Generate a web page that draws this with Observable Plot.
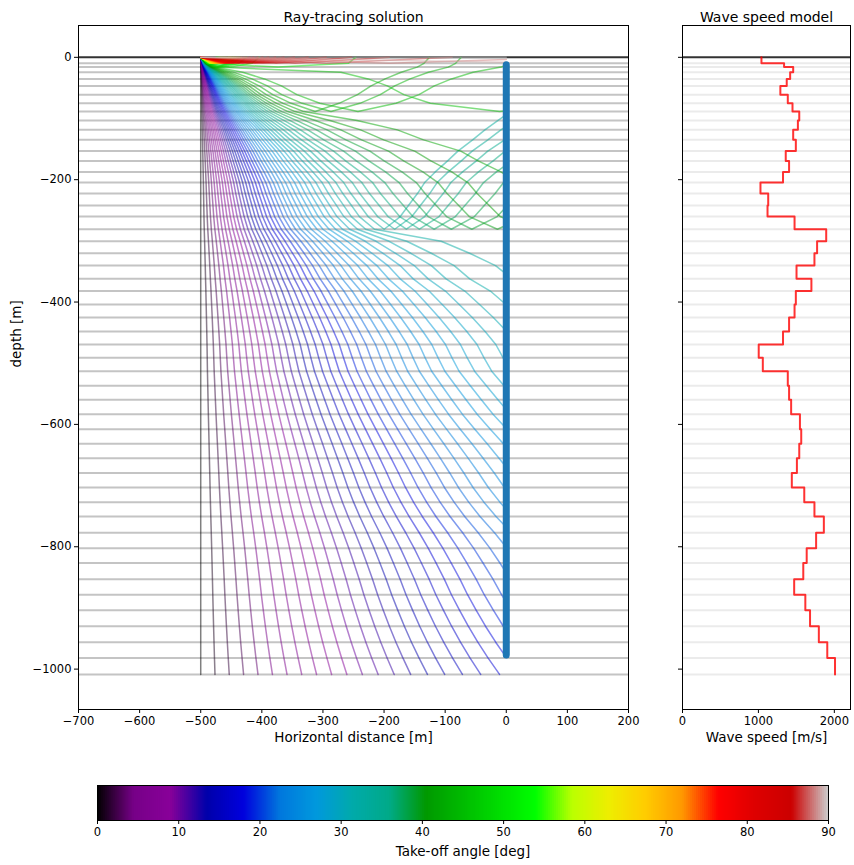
<!DOCTYPE html>
<html>
<head>
<meta charset="utf-8">
<script src="https://cdn.jsdelivr.net/npm/d3@7"></script>
<script src="https://cdn.jsdelivr.net/npm/@observablehq/plot@0.6"></script>
<style>
  body { margin: 0; background: #fff; font-family: "DejaVu Sans", sans-serif; }
  #chart { position: relative; width: 854px; height: 865px; }
  #chart svg { position: absolute; overflow: visible; }
</style>
</head>
<body>
<div id="chart"></div>
<script>
// Layered velocity model: depth of the top of each layer (m, positive downward)
const layerTops = [0, 9.8, 16.0, 24.5, 35.3, 46.7, 61.0, 75.2, 88.7, 103.4, 118.6, 134.9,
  153.3, 169.3, 187.3, 204.7, 222.7, 242.3, 260.3, 281.0, 300.7, 320.3, 340.4, 362.1,
  382.0, 404.1, 425.3, 448.2, 469.4, 491.2, 513.1, 536.9, 559.8, 583.3, 607.8, 631.7,
  655.2, 679.4, 703.1, 727.1, 750.5, 777.1, 802.3, 826.5, 853.0, 878.4, 903.6, 929.9,
  956.0, 981.7];
const modelBottom = 1008.7;

// Wave speed of each layer (m/s)
const layerSpeeds = [1040, 1338, 1458, 1418, 1373, 1289, 1387, 1449, 1538, 1520, 1458, 1493,
  1360, 1404, 1324, 1027, 1129, 1120, 1476, 1893, 1773, 1738, 1502, 1698,
  1493, 1476, 1404, 1324, 1004, 1058, 1387, 1404, 1431, 1547, 1564, 1538,
  1507, 1440, 1604, 1738, 1862, 1760, 1636, 1591, 1471, 1618, 1680, 1796,
  1907, 2009];

// Source and receiver geometry
const sourceX = -500;
const receiverX = 0;
const receiverDepths = [12, 977];

// Fan of take-off angles (deg from vertical)
const rayCount = 100;
const maxAngle = 90;
const takeoffAngles = d3.range(rayCount).map(i => i * maxAngle / (rayCount - 1));

// Axis ticks
const distanceTicks = [-700, -600, -500, -400, -300, -200, -100, 0, 100, 200];
const depthTicks = [0, -200, -400, -600, -800, -1000];
const speedTicks = [0, 1000, 2000];
const angleTicks = [0, 10, 20, 30, 40, 50, 60, 70, 80, 90];

// nipy_spectral colour stops
const spectralStops = [0, .05, .1, .15, .2, .25, .3, .35, .4, .45, .5, .55, .6, .65, .7, .75, .8, .85, .9, .95, 1];
const spectralColors = ["#000000", "#770088", "#880099", "#0000aa", "#0000dd", "#0077dd", "#0099dd",
  "#00aaaa", "#00aa88", "#009900", "#00bb00", "#00dd00", "#00ff00", "#bbff00", "#eeee00",
  "#ffcc00", "#ff9900", "#ff0000", "#dd0000", "#cc0000", "#cccccc"];

const nLayers = layerSpeeds.length;
const layerBottom = i => (i + 1 < nLayers ? layerTops[i + 1] : modelBottom);

// Snell's-law ray tracing through flat layers; rays reflect where they
// reach a critical interface and stop at the surface, the model bottom or the receiver line.
function traceRay(theta) {
  const p = Math.sin(theta * Math.PI / 180) / layerSpeeds[0];
  const pts = [{x: sourceX, z: 0}];
  let x = sourceX, i = 0, down = true;
  for (let guard = 0; guard < 2000; guard++) {
    const s = p * layerSpeeds[i];
    const zStart = down ? layerTops[i] : layerBottom(i);
    const zEnd = down ? layerBottom(i) : layerTops[i];
    if (s >= 1) { pts.push({x: receiverX, z: zStart}); break; }
    const dx = (layerBottom(i) - layerTops[i]) * s / Math.sqrt(1 - s * s);
    if (x + dx >= receiverX) {
      const f = (receiverX - x) / dx;
      pts.push({x: receiverX, z: zStart + (zEnd - zStart) * f});
      break;
    }
    x += dx;
    pts.push({x, z: zEnd});
    if (down) {
      if (i === nLayers - 1) break;
      if (p * layerSpeeds[i + 1] >= 1) down = false;
      else i++;
    } else {
      if (i === 0) break;
      i--;
    }
  }
  return pts;
}

const rays = takeoffAngles.flatMap((angle, k) =>
  traceRay(angle).map(pt => ({ray: k, angle, x: pt.x, depth: -pt.z})));

const interfaces = layerTops.slice(1).concat(modelBottom).map(d => -d);
const speedProfile = layerSpeeds.flatMap((v, i) => [
  {speed: v, depth: -layerTops[i]},
  {speed: v, depth: -layerBottom(i)}
]);
const receivers = receiverDepths.map(d => ({x: receiverX, depth: -d}));

const font = "DejaVu Sans";
const tickFont = 11.5;
const labelFont = 13.5;
const titleFont = 14;
const yDomain = [-1066, 52];
const colorScale = {
  type: "linear",
  domain: spectralStops.map(t => t * maxAngle),
  range: spectralColors,
  interpolate: "rgb"
};
const fmt = d3.format("d");

const mainPlot = Plot.plot({
  width: 640, height: 760,
  marginLeft: 78, marginRight: 12, marginTop: 25, marginBottom: 51,
  style: {fontFamily: font, background: "transparent", color: "#000"},
  x: {domain: [-700, 200]},
  y: {domain: yDomain},
  color: colorScale,
  marks: [
    Plot.ruleY(interfaces, {stroke: "#c4c4c4", strokeWidth: 2}),
    Plot.ruleY([0], {stroke: "#333", strokeWidth: 2}),
    Plot.line(rays, {x: "x", y: "depth", z: "ray", stroke: "angle", strokeWidth: 1.5, strokeOpacity: 0.5}),
    Plot.line(receivers, {x: "x", y: "depth", stroke: "#1f77b4", strokeWidth: 7, strokeLinecap: "round"}),
    Plot.frame({stroke: "#000"}),
    Plot.axisX({ticks: distanceTicks, tickFormat: fmt, tickSize: 4, tickPadding: 3, fontSize: tickFont, label: null}),
    Plot.axisY({ticks: depthTicks, tickFormat: fmt, tickSize: 4, tickPadding: 3, fontSize: tickFont, label: null}),
    Plot.text(["Ray-tracing solution"], {frameAnchor: "top", dy: -13, fontSize: titleFont}),
    Plot.text(["Horizontal distance [m]"], {frameAnchor: "bottom", dy: 32, fontSize: labelFont}),
    Plot.text(["depth [m]"], {frameAnchor: "left", dx: -62, rotate: -90, fontSize: labelFont})
  ]
});
mainPlot.style.left = "0px";
mainPlot.style.top = "0px";

const speedPlot = Plot.plot({
  width: 214, height: 760,
  marginLeft: 42, marginRight: 4, marginTop: 25, marginBottom: 51,
  style: {fontFamily: font, background: "transparent", color: "#000"},
  x: {domain: [0, 2213]},
  y: {domain: yDomain},
  marks: [
    Plot.ruleY(interfaces, {stroke: "#ebebeb", strokeWidth: 2}),
    Plot.ruleY([0], {stroke: "#333", strokeWidth: 2}),
    Plot.line(speedProfile, {x: "speed", y: "depth", stroke: "#ff0000", strokeOpacity: 0.8, strokeWidth: 2}),
    Plot.frame({stroke: "#000"}),
    Plot.axisX({ticks: speedTicks, tickFormat: fmt, tickSize: 4, tickPadding: 3, fontSize: tickFont, label: null}),
    Plot.axisY({ticks: depthTicks, tickFormat: () => "", tickSize: 4, label: null}),
    Plot.text(["Wave speed model"], {frameAnchor: "top", dy: -13, fontSize: titleFont}),
    Plot.text(["Wave speed [m/s]"], {frameAnchor: "bottom", dy: 32, fontSize: labelFont})
  ]
});
speedPlot.style.left = "640px";
speedPlot.style.top = "0px";

// Colour bar for the take-off angle
const barStep = 0.25;
const barSlices = d3.range(0, maxAngle, barStep).map(a => ({a0: a, a1: Math.min(maxAngle, a + barStep * 1.6), angle: a + barStep / 2}));
const colorBar = Plot.plot({
  width: 854, height: 80,
  marginLeft: 97, marginRight: 26, marginTop: 0, marginBottom: 45,
  style: {fontFamily: font, background: "transparent", color: "#000"},
  x: {domain: [0, maxAngle]},
  y: {domain: [0, 1], axis: null},
  color: colorScale,
  marks: [
    Plot.rect(barSlices, {x1: "a0", x2: "a1", y1: 0, y2: 1, fill: "angle", inset: 0}),
    Plot.frame({stroke: "#000"}),
    Plot.axisX({ticks: angleTicks, tickFormat: fmt, tickSize: 4, tickPadding: 3, fontSize: tickFont, label: null}),
    Plot.text(["Take-off angle [deg]"], {frameAnchor: "bottom", dy: 35, fontSize: labelFont})
  ]
});
colorBar.style.left = "0px";
colorBar.style.top = "785px";

const chart = document.getElementById("chart");
chart.append(mainPlot, speedPlot, colorBar);
</script>
</body>
</html>
